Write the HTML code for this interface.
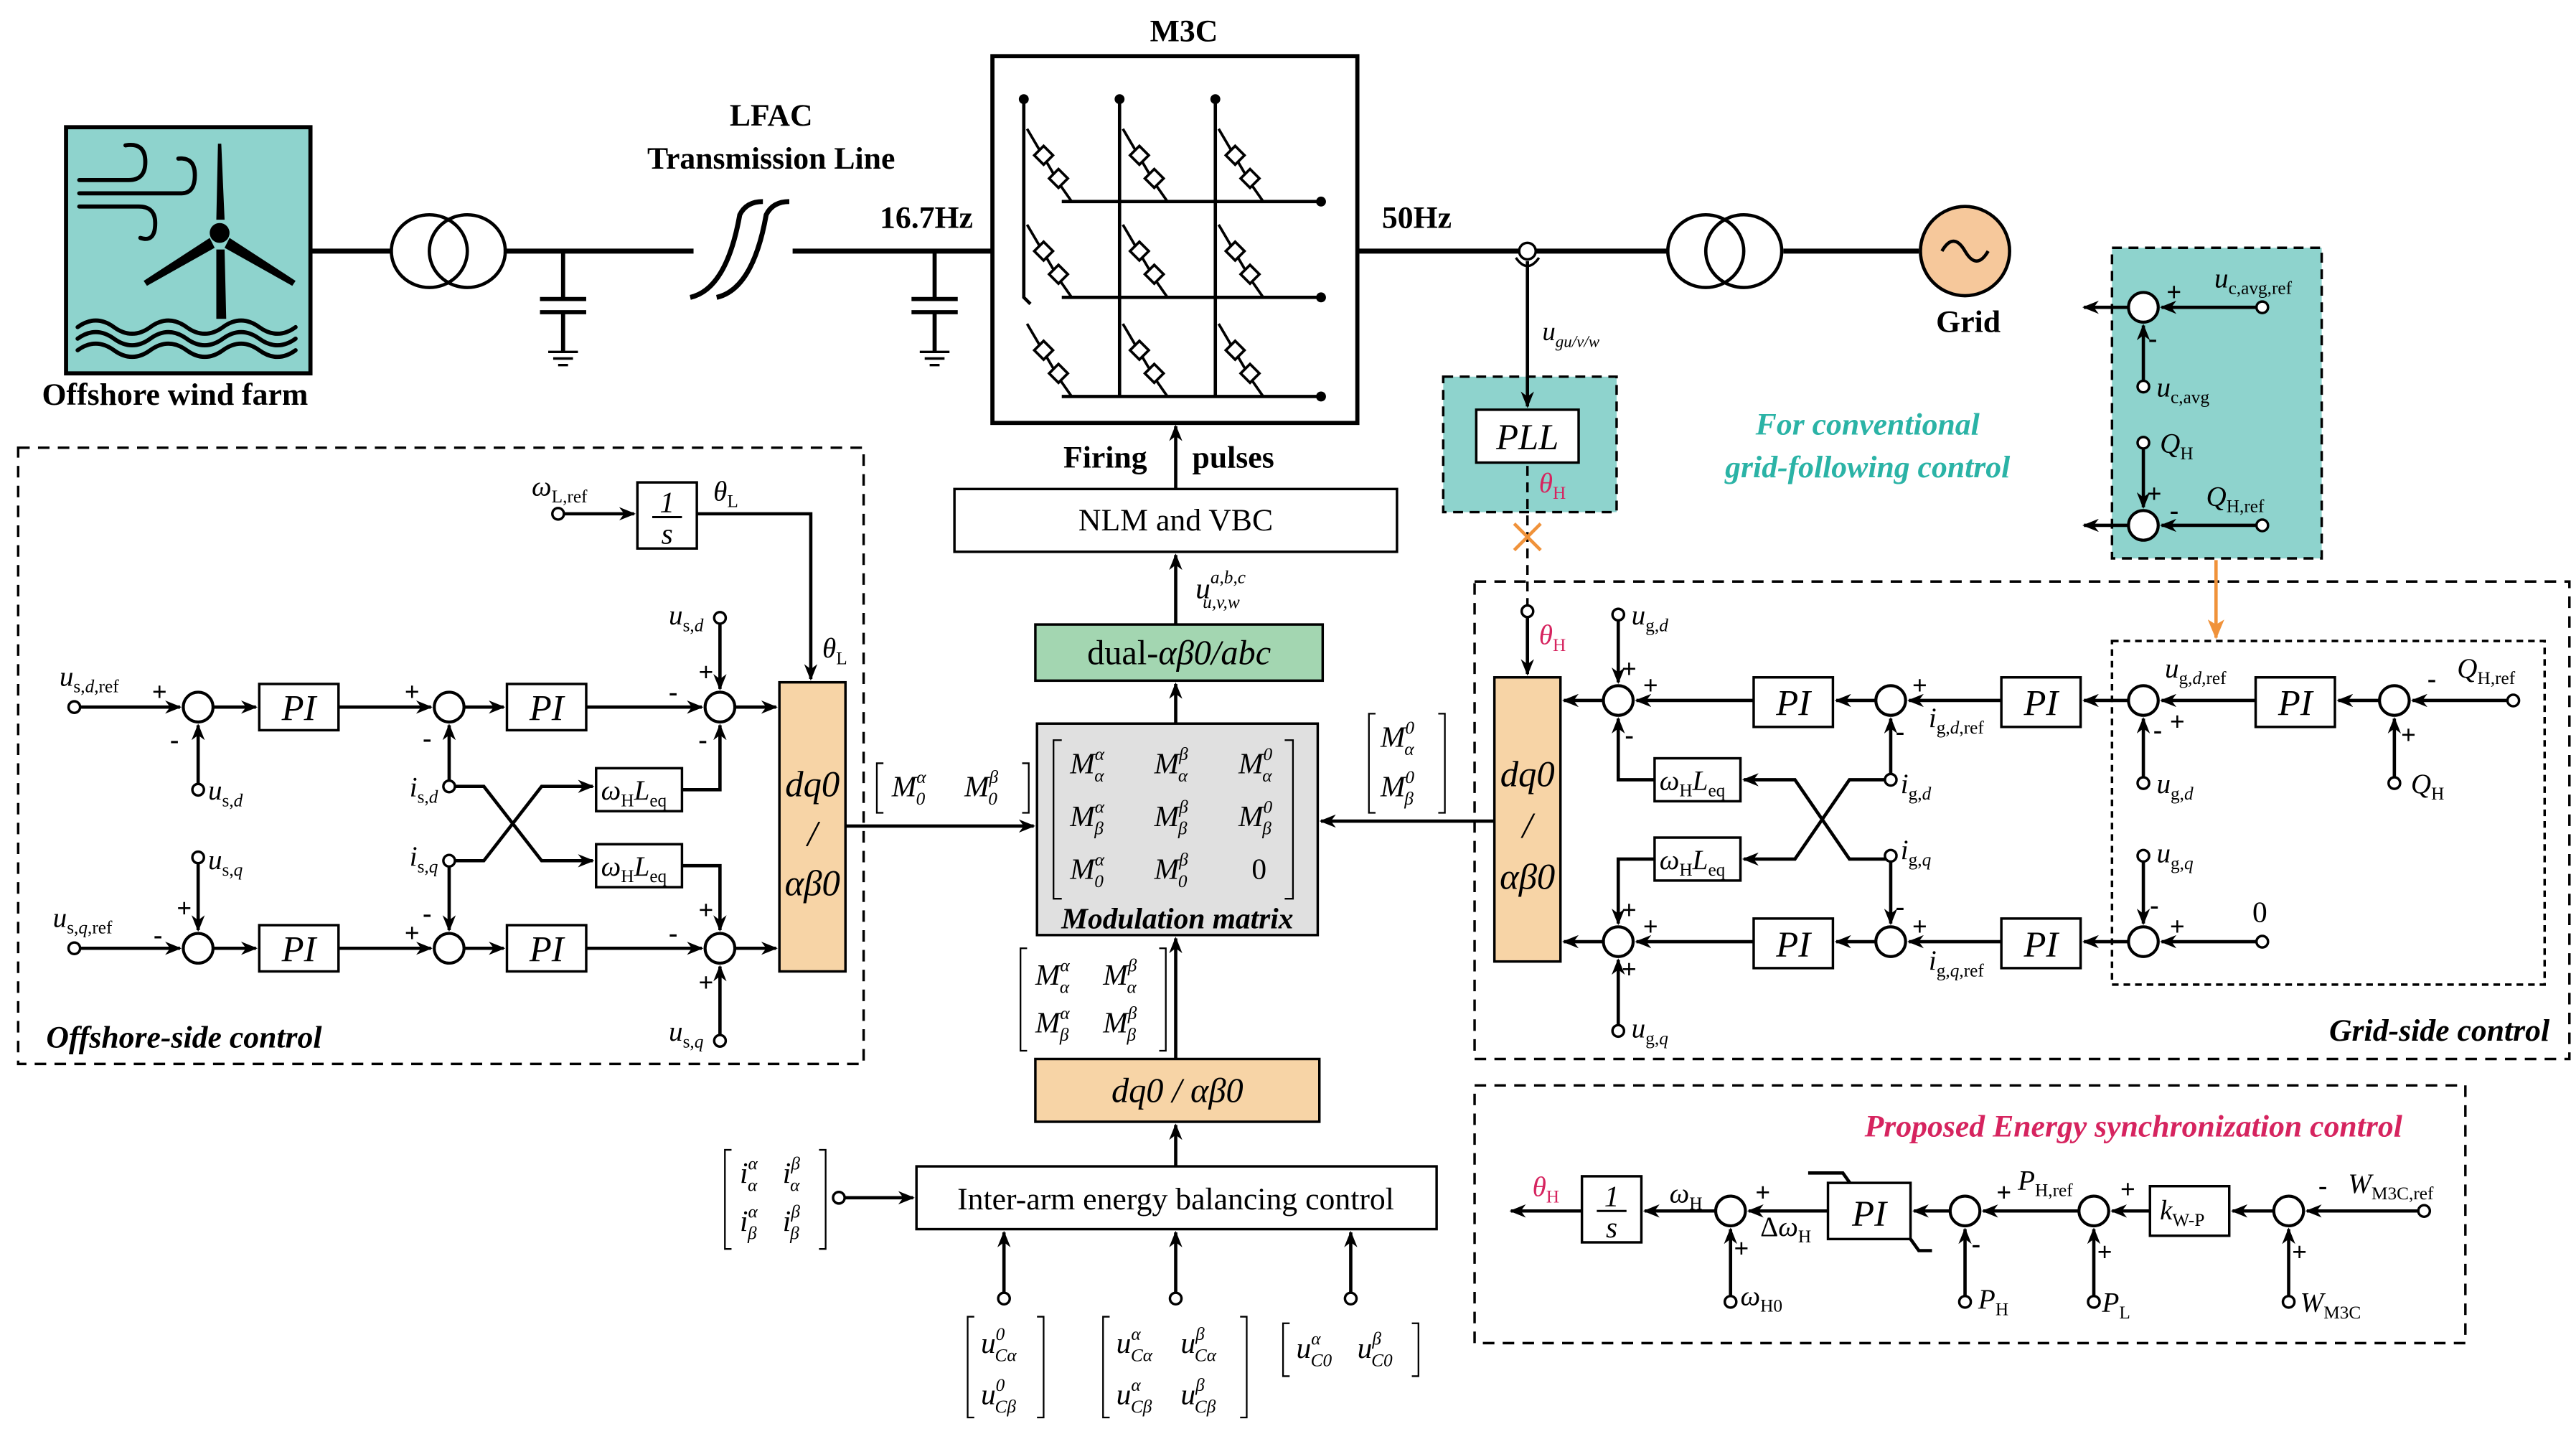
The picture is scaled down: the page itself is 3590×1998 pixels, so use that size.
<!DOCTYPE html>
<html><head><meta charset="utf-8"><style>
html,body{margin:0;padding:0;background:#fff;}
svg{display:block;}
text{font-family:"Liberation Serif",serif;fill:#000;}
.i{font-style:italic;}
.b{font-weight:bold;}
.s{font-size:17px;}
.pi{font-size:22px;font-style:italic;}
</style></head><body>
<svg width="3590" height="1998" viewBox="0 0 1560 868" preserveAspectRatio="none" xmlns="http://www.w3.org/2000/svg">
<defs>
<marker id="a" markerWidth="10" markerHeight="8" refX="9" refY="4" orient="auto" markerUnits="userSpaceOnUse"><path d="M0,0 L10,4 L0,8 L3,4Z" fill="#000"/></marker>
<marker id="o" markerWidth="12" markerHeight="10" refX="11" refY="5" orient="auto" markerUnits="userSpaceOnUse"><path d="M0,0 L12,5 L0,10 L3,5Z" fill="#f0923a"/></marker>
</defs>
<rect width="1560" height="868" fill="#fff"/>

<!-- ===== power circuit ===== -->
<rect x="40" y="77" width="148" height="149" fill="#8ed3cd" stroke="#000" stroke-width="2.5"/>
<g stroke="#000" fill="none" stroke-width="2.5" stroke-linecap="round">
<path d="M48,109 H78 Q88,109 88,98 Q88,86 76,88"/>
<path d="M48,117 H110 Q118,117 118,106 Q118,95 108,96"/>
<path d="M48,125 H84 Q94,125 94,135 Q94,147 85,144"/>
<path d="M47,198 q11,-8 22,0 t22,0 t22,0 t22,0 t22,0 t22,0"/>
<path d="M47,205 q11,-8 22,0 t22,0 t22,0 t22,0 t22,0 t22,0"/>
<path d="M47,212 q11,-8 22,0 t22,0 t22,0 t22,0 t22,0 t22,0"/>
</g>
<path d="M131,133 L132,87 L134,87 L136,133Z M131,151 L136,151 L137,193 L131,193Z" fill="#000"/>
<path d="M127,144 L87,170 L89,173 L130,150Z M139,144 L179,170 L177,173 L136,150Z" fill="#000"/>
<circle cx="133" cy="141" r="6" fill="#000"/>
<text x="106" y="245" class="b" font-size="19" text-anchor="middle">Offshore wind farm</text>

<g stroke="#000" stroke-width="3" fill="none">
<line x1="188" y1="152" x2="237" y2="152"/><line x1="305" y1="152" x2="600" y2="152"/>
<line x1="822" y1="152" x2="1010" y2="152"/><line x1="1080" y1="152" x2="1162" y2="152"/>
</g>
<g stroke="#000" stroke-width="2" fill="none">
<ellipse cx="260" cy="152" rx="23" ry="22"/><ellipse cx="283" cy="152" rx="23" ry="22"/>
<ellipse cx="1033" cy="152" rx="23" ry="22"/><ellipse cx="1056" cy="152" rx="23" ry="22"/>
</g>
<rect x="420" y="140" width="60" height="24" fill="#fff"/>
<g stroke="#000" stroke-width="3" fill="none">
<path d="M418,180 Q440,175 448,130 Q452,122 462,122"/>
<path d="M434,180 Q456,175 464,130 Q468,122 478,122"/>
</g>
<g stroke="#000" stroke-width="2.5" fill="none">
<path d="M341,152 V181 M327,181 H355 M327,189 H355 M341,189 V213"/>
<path d="M566,152 V181 M552,181 H580 M552,189 H580 M566,189 V213"/>
</g>
<g stroke="#000" stroke-width="1.5"><path d="M332,213 H350 M335,217 H347 M338,221 H344"/><path d="M557,213 H575 M560,217 H572 M563,221 H569"/></g>
<text x="467" y="76" class="b" font-size="19" text-anchor="middle">LFAC</text>
<text x="467" y="102" class="b" font-size="19" text-anchor="middle">Transmission Line</text>
<text x="561" y="138" class="b" font-size="19" text-anchor="middle">16.7Hz</text>
<text x="858" y="138" class="b" font-size="19" text-anchor="middle">50Hz</text>
<text x="717" y="25" class="b" font-size="19" text-anchor="middle">M3C</text>

<rect x="601" y="34" width="221" height="222" fill="#fff" stroke="#000" stroke-width="2.5"/>
<g stroke="#000" stroke-width="2" fill="none">
<path d="M620,60 V180 L624,184"/><line x1="678" y1="60" x2="678" y2="240"/><line x1="736" y1="60" x2="736" y2="240"/>
<line x1="643" y1="122" x2="800" y2="122"/><line x1="643" y1="180" x2="800" y2="180"/><line x1="643" y1="240" x2="800" y2="240"/>
</g>
<g fill="#000"><circle cx="620" cy="60" r="3"/><circle cx="678" cy="60" r="3"/><circle cx="736" cy="60" r="3"/>
<circle cx="800" cy="122" r="3"/><circle cx="800" cy="180" r="3"/><circle cx="800" cy="240" r="3"/></g>
<g stroke="#000" stroke-width="1.6" fill="#fff">
<g id="br"><path d="M622,78 L642,112 L649,122" fill="none"/><rect x="628" y="90" width="8" height="8" transform="rotate(45 632 94)"/><rect x="637" y="104" width="8" height="8" transform="rotate(45 641 108)"/></g>
<use href="#br" x="58"/><use href="#br" x="116"/>
<use href="#br" y="58"/><use href="#br" x="58" y="58"/><use href="#br" x="116" y="58"/>
<use href="#br" y="118"/><use href="#br" x="58" y="118"/><use href="#br" x="116" y="118"/>
</g>

<!-- sensor and grid -->
<circle cx="925" cy="152" r="5" fill="#fff" stroke="#000" stroke-width="1.5"/>
<path d="M918,156 Q925,166 932,156" fill="none" stroke="#000" stroke-width="1.5"/>
<circle cx="1190" cy="152" r="27" fill="#f6c89b" stroke="#000" stroke-width="2"/>
<path d="M1176,152 Q1183,140 1190,152 T1204,152" fill="none" stroke="#000" stroke-width="2"/>
<text x="1192" y="201" class="b" font-size="19" text-anchor="middle">Grid</text>

<!-- M3C control chain -->
<line x1="712" y1="296" x2="712" y2="258" stroke="#000" stroke-width="2" marker-end="url(#a)"/>
<text x="644" y="283" class="b" font-size="19">Firing</text><text x="722" y="283" class="b" font-size="19">pulses</text>
<rect x="578" y="296" width="268" height="38" fill="#fff" stroke="#000" stroke-width="1.5"/>
<text x="712" y="321" font-size="19" text-anchor="middle">NLM and VBC</text>
<line x1="712" y1="378" x2="712" y2="336" stroke="#000" stroke-width="2" marker-end="url(#a)"/>
<text x="724" y="362" class="i" font-size="18">u<tspan font-size="11" dy="-9">a,b,c</tspan><tspan font-size="11" dx="-26" dy="15">u,v,w</tspan></text>
<rect x="627" y="378" width="174" height="34" fill="#a3d6b1" stroke="#000" stroke-width="1.5"/>
<text x="714" y="402" font-size="21" text-anchor="middle">dual-<tspan class="i">αβ0/abc</tspan></text>
<line x1="712" y1="438" x2="712" y2="414" stroke="#000" stroke-width="2" marker-end="url(#a)"/>
<rect x="628" y="438" width="170" height="128" fill="#e0e0e0" stroke="#000" stroke-width="1.5"/>
<path d="M643,448 h-5 v96 h5 M778,448 h5 v96 h-5" fill="none" stroke="#000" stroke-width="1"/>
<g class="i" font-size="18">
<text x="648" y="468">M<tspan font-size="11" dy="-8">α</tspan><tspan font-size="11" dx="-6" dy="13">α</tspan></text>
<text x="699" y="468">M<tspan font-size="11" dy="-8">β</tspan><tspan font-size="11" dx="-6" dy="13">α</tspan></text>
<text x="750" y="468">M<tspan font-size="11" dy="-8">0</tspan><tspan font-size="11" dx="-6" dy="13">α</tspan></text>
<text x="648" y="500">M<tspan font-size="11" dy="-8">α</tspan><tspan font-size="11" dx="-6" dy="13">β</tspan></text>
<text x="699" y="500">M<tspan font-size="11" dy="-8">β</tspan><tspan font-size="11" dx="-6" dy="13">β</tspan></text>
<text x="750" y="500">M<tspan font-size="11" dy="-8">0</tspan><tspan font-size="11" dx="-6" dy="13">β</tspan></text>
<text x="648" y="532">M<tspan font-size="11" dy="-8">α</tspan><tspan font-size="11" dx="-6" dy="13">0</tspan></text>
<text x="699" y="532">M<tspan font-size="11" dy="-8">β</tspan><tspan font-size="11" dx="-6" dy="13">0</tspan></text>
<text x="758" y="532" font-style="normal">0</text>
</g>
<text x="713" y="562" class="b i" font-size="18" text-anchor="middle">Modulation matrix</text>

<!-- M inputs -->
<line x1="512" y1="500" x2="626" y2="500" stroke="#000" stroke-width="2" marker-end="url(#a)"/>
<path d="M535,462 h-4 v30 h4 M619,462 h4 v30 h-4" fill="none" stroke="#000" stroke-width="1"/>
<g class="i" font-size="18"><text x="540" y="482">M<tspan font-size="11" dy="-8">α</tspan><tspan font-size="11" dx="-6" dy="13">0</tspan></text>
<text x="584" y="482">M<tspan font-size="11" dy="-8">β</tspan><tspan font-size="11" dx="-6" dy="13">0</tspan></text></g>
<line x1="905" y1="497" x2="800" y2="497" stroke="#000" stroke-width="2" marker-end="url(#a)"/>
<path d="M833,432 h-4 v60 h4 M871,432 h4 v60 h-4" fill="none" stroke="#000" stroke-width="1"/>
<g class="i" font-size="18"><text x="836" y="452">M<tspan font-size="11" dy="-8">0</tspan><tspan font-size="11" dx="-6" dy="13">α</tspan></text>
<text x="836" y="482">M<tspan font-size="11" dy="-8">0</tspan><tspan font-size="11" dx="-6" dy="13">β</tspan></text></g>

<path d="M622,574 h-4 v62 h4 M702,574 h4 v62 h-4" fill="none" stroke="#000" stroke-width="1"/>
<g class="i" font-size="18"><text x="627" y="596">M<tspan font-size="11" dy="-8">α</tspan><tspan font-size="11" dx="-6" dy="13">α</tspan></text>
<text x="668" y="596">M<tspan font-size="11" dy="-8">β</tspan><tspan font-size="11" dx="-6" dy="13">α</tspan></text>
<text x="627" y="625">M<tspan font-size="11" dy="-8">α</tspan><tspan font-size="11" dx="-6" dy="13">β</tspan></text>
<text x="668" y="625">M<tspan font-size="11" dy="-8">β</tspan><tspan font-size="11" dx="-6" dy="13">β</tspan></text></g>
<line x1="712" y1="641" x2="712" y2="568" stroke="#000" stroke-width="2" marker-end="url(#a)"/>
<rect x="627" y="641" width="172" height="38" fill="#f7d4a6" stroke="#000" stroke-width="1.5"/>
<text x="713" y="667" class="i" font-size="21" text-anchor="middle">dq0 / αβ0</text>
<line x1="712" y1="706" x2="712" y2="681" stroke="#000" stroke-width="2" marker-end="url(#a)"/>
<rect x="555" y="706" width="315" height="38" fill="#fff" stroke="#000" stroke-width="1.5"/>
<text x="712" y="732" font-size="19" text-anchor="middle">Inter-arm energy balancing control</text>
<circle cx="508" cy="725" r="3.5" fill="#fff" stroke="#000" stroke-width="1.5"/>
<line x1="512" y1="725" x2="553" y2="725" stroke="#000" stroke-width="2" marker-end="url(#a)"/>
<path d="M443,696 h-4 v60 h4 M496,696 h4 v60 h-4" fill="none" stroke="#000" stroke-width="1"/>
<g class="i" font-size="18"><text x="448" y="716">i<tspan font-size="11" dy="-8">α</tspan><tspan font-size="11" dx="-6" dy="13">α</tspan></text>
<text x="474" y="716">i<tspan font-size="11" dy="-8">β</tspan><tspan font-size="11" dx="-6" dy="13">α</tspan></text>
<text x="448" y="745">i<tspan font-size="11" dy="-8">α</tspan><tspan font-size="11" dx="-6" dy="13">β</tspan></text>
<text x="474" y="745">i<tspan font-size="11" dy="-8">β</tspan><tspan font-size="11" dx="-6" dy="13">β</tspan></text></g>
<g stroke="#000" stroke-width="2">
<line x1="608" y1="782" x2="608" y2="746" marker-end="url(#a)"/><line x1="712" y1="782" x2="712" y2="746" marker-end="url(#a)"/><line x1="818" y1="782" x2="818" y2="746" marker-end="url(#a)"/></g>
<g fill="#fff" stroke="#000" stroke-width="1.5"><circle cx="608" cy="786" r="3.5"/><circle cx="712" cy="786" r="3.5"/><circle cx="818" cy="786" r="3.5"/></g>
<path d="M590,797 h-4 v61 h4 M628,797 h4 v61 h-4 M672,797 h-4 v61 h4 M751,797 h4 v61 h-4 M781,801 h-4 v32 h4 M855,801 h4 v32 h-4" fill="none" stroke="#000" stroke-width="1"/>
<g class="i" font-size="18">
<text x="594" y="819">u<tspan font-size="11" dy="-8">0</tspan><tspan font-size="11" dx="-6" dy="13">Cα</tspan></text>
<text x="594" y="850">u<tspan font-size="11" dy="-8">0</tspan><tspan font-size="11" dx="-6" dy="13">Cβ</tspan></text>
<text x="676" y="819">u<tspan font-size="11" dy="-8">α</tspan><tspan font-size="11" dx="-6" dy="13">Cα</tspan></text>
<text x="715" y="819">u<tspan font-size="11" dy="-8">β</tspan><tspan font-size="11" dx="-6" dy="13">Cα</tspan></text>
<text x="676" y="850">u<tspan font-size="11" dy="-8">α</tspan><tspan font-size="11" dx="-6" dy="13">Cβ</tspan></text>
<text x="715" y="850">u<tspan font-size="11" dy="-8">β</tspan><tspan font-size="11" dx="-6" dy="13">Cβ</tspan></text>
<text x="785" y="822">u<tspan font-size="11" dy="-8">α</tspan><tspan font-size="11" dx="-6" dy="13">C0</tspan></text>
<text x="822" y="822">u<tspan font-size="11" dy="-8">β</tspan><tspan font-size="11" dx="-6" dy="13">C0</tspan></text>
</g>

<!-- ===== Offshore-side control ===== -->
<rect x="11" y="271" width="512" height="373" fill="none" stroke="#000" stroke-width="1.5" stroke-dasharray="7,5"/>
<text x="28" y="634" class="b i" font-size="19">Offshore-side control</text>
<g stroke="#000" stroke-width="2" fill="none">
<line x1="342" y1="311" x2="384" y2="311" marker-end="url(#a)"/>
<path d="M422,311 H491 V411" marker-end="url(#a)"/>
<line x1="49" y1="428" x2="109" y2="428" marker-end="url(#a)"/>
<line x1="120" y1="474" x2="120" y2="439" marker-end="url(#a)"/>
<line x1="129" y1="428" x2="155" y2="428" marker-end="url(#a)"/>
<line x1="205" y1="428" x2="261" y2="428" marker-end="url(#a)"/>
<line x1="272" y1="472" x2="272" y2="439" marker-end="url(#a)"/>
<line x1="281" y1="428" x2="305" y2="428" marker-end="url(#a)"/>
<line x1="355" y1="428" x2="425" y2="428" marker-end="url(#a)"/>
<line x1="436" y1="378" x2="436" y2="417" marker-end="url(#a)"/>
<path d="M413,478 H436 V439" marker-end="url(#a)"/>
<line x1="445" y1="428" x2="470" y2="428" marker-end="url(#a)"/>
<path d="M275,476 H293 L328,521 H359" marker-end="url(#a)"/>
<path d="M275,521 H293 L328,476 H359" marker-end="url(#a)"/>
<line x1="49" y1="574" x2="109" y2="574" marker-end="url(#a)"/>
<line x1="120" y1="523" x2="120" y2="563" marker-end="url(#a)"/>
<line x1="129" y1="574" x2="155" y2="574" marker-end="url(#a)"/>
<line x1="205" y1="574" x2="261" y2="574" marker-end="url(#a)"/>
<line x1="272" y1="525" x2="272" y2="563" marker-end="url(#a)"/>
<line x1="281" y1="574" x2="305" y2="574" marker-end="url(#a)"/>
<line x1="355" y1="574" x2="425" y2="574" marker-end="url(#a)"/>
<path d="M413,524 H436 V563" marker-end="url(#a)"/>
<line x1="436" y1="626" x2="436" y2="585" marker-end="url(#a)"/>
<line x1="445" y1="574" x2="470" y2="574" marker-end="url(#a)"/>
</g>
<g fill="#fff" stroke="#000" stroke-width="1.8">
<circle cx="120" cy="428" r="9"/><circle cx="272" cy="428" r="9"/><circle cx="436" cy="428" r="9"/>
<circle cx="120" cy="574" r="9"/><circle cx="272" cy="574" r="9"/><circle cx="436" cy="574" r="9"/>
</g>
<g fill="#fff" stroke="#000" stroke-width="1.5">
<circle cx="338" cy="311" r="3.5"/><circle cx="45" cy="428" r="3.5"/><circle cx="120" cy="478" r="3.5"/><circle cx="272" cy="476" r="3.5"/>
<circle cx="436" cy="374" r="3.5"/><circle cx="45" cy="574" r="3.5"/><circle cx="120" cy="519" r="3.5"/><circle cx="272" cy="521" r="3.5"/><circle cx="436" cy="630" r="3.5"/>
<rect x="386" y="292" width="36" height="40"/>
<rect x="157" y="414" width="48" height="28"/><rect x="307" y="414" width="48" height="28"/>
<rect x="157" y="560" width="48" height="28"/><rect x="307" y="560" width="48" height="28"/>
<rect x="361" y="465" width="52" height="26"/><rect x="361" y="511" width="52" height="26"/>
</g>
<rect x="472" y="413" width="40" height="175" fill="#f7d4a6" stroke="#000" stroke-width="1.5"/>
<g class="i" font-size="22" text-anchor="middle"><text x="492" y="482">dq0</text><text x="492" y="512">/</text><text x="492" y="542">αβ0</text></g>
<text x="404" y="310" class="i" font-size="18" text-anchor="middle">1</text><line x1="395" y1="313" x2="413" y2="313" stroke="#000" stroke-width="1.3"/><text x="404" y="329" class="i" font-size="18" text-anchor="middle">s</text>
<g class="pi" text-anchor="middle"><text x="181" y="436">PI</text><text x="331" y="436">PI</text><text x="181" y="582">PI</text><text x="331" y="582">PI</text></g>
<g class="i" font-size="17">
<text x="364" y="484">ω<tspan font-size="11" dy="4" font-style="normal">H</tspan><tspan dy="-4">L</tspan><tspan font-size="11" dy="4" font-style="normal">eq</tspan></text>
<text x="364" y="530">ω<tspan font-size="11" dy="4" font-style="normal">H</tspan><tspan dy="-4">L</tspan><tspan font-size="11" dy="4" font-style="normal">eq</tspan></text>
<text x="322" y="300">ω<tspan font-size="11" dy="4" font-style="normal">L,ref</tspan></text>
<text x="432" y="303">θ<tspan font-size="11" dy="4" font-style="normal">L</tspan></text>
<text x="498" y="398">θ<tspan font-size="11" dy="4" font-style="normal">L</tspan></text>
<text x="36" y="415">u<tspan font-size="11" dy="4" font-style="normal">s,<tspan font-style="italic">d</tspan>,ref</tspan></text>
<text x="126" y="484">u<tspan font-size="11" dy="4" font-style="normal">s,<tspan font-style="italic">d</tspan></tspan></text>
<text x="248" y="482">i<tspan font-size="11" dy="4" font-style="normal">s,<tspan font-style="italic">d</tspan></tspan></text>
<text x="405" y="378">u<tspan font-size="11" dy="4" font-style="normal">s,<tspan font-style="italic">d</tspan></tspan></text>
<text x="126" y="526">u<tspan font-size="11" dy="4" font-style="normal">s,<tspan font-style="italic">q</tspan></tspan></text>
<text x="248" y="524">i<tspan font-size="11" dy="4" font-style="normal">s,<tspan font-style="italic">q</tspan></tspan></text>
<text x="32" y="561">u<tspan font-size="11" dy="4" font-style="normal">s,<tspan font-style="italic">q</tspan>,ref</tspan></text>
<text x="405" y="630">u<tspan font-size="11" dy="4" font-style="normal">s,<tspan font-style="italic">q</tspan></tspan></text>
</g>
<g class="b" font-size="16">
<text x="92" y="424">+</text><text x="103" y="453">-</text><text x="245" y="424">+</text><text x="256" y="452">-</text><text x="405" y="424">-</text><text x="423" y="412">+</text><text x="423" y="453">-</text>
<text x="93" y="571">-</text><text x="107" y="555">+</text><text x="245" y="570">+</text><text x="256" y="558">-</text><text x="405" y="570">-</text><text x="423" y="556">+</text><text x="423" y="600">+</text>
</g>

<!-- ===== PLL ===== -->
<rect x="874" y="228" width="105" height="82" fill="#8ed3cd" stroke="#000" stroke-width="1.5" stroke-dasharray="6,4"/>
<line x1="925" y1="158" x2="925" y2="246" stroke="#000" stroke-width="2" marker-end="url(#a)"/>
<rect x="894" y="248" width="62" height="32" fill="#fff" stroke="#000" stroke-width="1.5"/>
<text x="925" y="272" class="i" font-size="22" text-anchor="middle">PLL</text>
<text x="934" y="206" class="i" font-size="16">u<tspan font-size="10" dy="4">gu/v/w</tspan></text>
<text x="932" y="298" class="i" font-size="17" style="fill:#d6245f">θ<tspan font-size="11" dy="4" font-style="normal">H</tspan></text>
<line x1="925" y1="282" x2="925" y2="368" stroke="#000" stroke-width="1.5" stroke-dasharray="6,4"/>
<path d="M917,317 L933,333 M933,317 L917,333" stroke="#f0923a" stroke-width="2"/>

<!-- ===== Grid-side control ===== -->
<rect x="893" y="352" width="663" height="289" fill="none" stroke="#000" stroke-width="1.5" stroke-dasharray="7,5"/>
<rect x="1279" y="388" width="262" height="208" fill="none" stroke="#000" stroke-width="1.5" stroke-dasharray="4,3"/>
<text x="1544" y="630" class="b i" font-size="19" text-anchor="end">Grid-side control</text>
<rect x="905" y="410" width="40" height="172" fill="#f7d4a6" stroke="#000" stroke-width="1.5"/>
<g class="i" font-size="22" text-anchor="middle"><text x="925" y="476">dq0</text><text x="925" y="507">/</text><text x="925" y="538">αβ0</text></g>
<g stroke="#000" stroke-width="2" fill="none">
<line x1="925" y1="374" x2="925" y2="408" marker-end="url(#a)"/>
<line x1="971" y1="424" x2="947" y2="424" marker-end="url(#a)"/>
<line x1="980" y1="376" x2="980" y2="413" marker-end="url(#a)"/>
<path d="M1002,472 H980 V435" marker-end="url(#a)"/>
<line x1="1062" y1="424" x2="991" y2="424" marker-end="url(#a)"/>
<line x1="1136" y1="424" x2="1112" y2="424" marker-end="url(#a)"/>
<line x1="1145" y1="468" x2="1145" y2="435" marker-end="url(#a)"/>
<line x1="1212" y1="424" x2="1156" y2="424" marker-end="url(#a)"/>
<line x1="1289" y1="424" x2="1262" y2="424" marker-end="url(#a)"/>
<line x1="1298" y1="470" x2="1298" y2="435" marker-end="url(#a)"/>
<line x1="1366" y1="424" x2="1309" y2="424" marker-end="url(#a)"/>
<line x1="1441" y1="424" x2="1416" y2="424" marker-end="url(#a)"/>
<line x1="1519" y1="424" x2="1461" y2="424" marker-end="url(#a)"/>
<line x1="1450" y1="470" x2="1450" y2="435" marker-end="url(#a)"/>
<path d="M1142,472 H1120 L1087,520 H1056" marker-end="url(#a)"/>
<path d="M1142,520 H1120 L1087,472 H1056" marker-end="url(#a)"/>
<line x1="971" y1="570" x2="947" y2="570" marker-end="url(#a)"/>
<line x1="980" y1="620" x2="980" y2="581" marker-end="url(#a)"/>
<path d="M1002,520 H980 V559" marker-end="url(#a)"/>
<line x1="1062" y1="570" x2="991" y2="570" marker-end="url(#a)"/>
<line x1="1136" y1="570" x2="1112" y2="570" marker-end="url(#a)"/>
<line x1="1145" y1="522" x2="1145" y2="559" marker-end="url(#a)"/>
<line x1="1212" y1="570" x2="1156" y2="570" marker-end="url(#a)"/>
<line x1="1289" y1="570" x2="1262" y2="570" marker-end="url(#a)"/>
<line x1="1298" y1="522" x2="1298" y2="559" marker-end="url(#a)"/>
<line x1="1367" y1="570" x2="1309" y2="570" marker-end="url(#a)"/>
</g>
<g fill="#fff" stroke="#000" stroke-width="1.8">
<circle cx="980" cy="424" r="9"/><circle cx="1145" cy="424" r="9"/><circle cx="1298" cy="424" r="9"/><circle cx="1450" cy="424" r="9"/>
<circle cx="980" cy="570" r="9"/><circle cx="1145" cy="570" r="9"/><circle cx="1298" cy="570" r="9"/>
</g>
<g fill="#fff" stroke="#000" stroke-width="1.5">
<circle cx="925" cy="370" r="3.5"/><circle cx="980" cy="372" r="3.5"/><circle cx="1145" cy="472" r="3.5"/><circle cx="1298" cy="474" r="3.5"/><circle cx="1450" cy="474" r="3.5"/><circle cx="1522" cy="424" r="3.5"/>
<circle cx="980" cy="624" r="3.5"/><circle cx="1145" cy="518" r="3.5"/><circle cx="1298" cy="518" r="3.5"/><circle cx="1370" cy="570" r="3.5"/>
<rect x="1062" y="410" width="48" height="30"/><rect x="1212" y="410" width="48" height="30"/><rect x="1366" y="410" width="48" height="30"/>
<rect x="1062" y="556" width="48" height="30"/><rect x="1212" y="556" width="48" height="30"/>
<rect x="1002" y="459" width="52" height="26"/><rect x="1002" y="507" width="52" height="26"/>
</g>
<g class="pi" text-anchor="middle"><text x="1086" y="433">PI</text><text x="1236" y="433">PI</text><text x="1390" y="433">PI</text><text x="1086" y="579">PI</text><text x="1236" y="579">PI</text></g>
<g class="i" font-size="17">
<text x="1005" y="478">ω<tspan font-size="11" dy="4" font-style="normal">H</tspan><tspan dy="-4">L</tspan><tspan font-size="11" dy="4" font-style="normal">eq</tspan></text>
<text x="1005" y="526">ω<tspan font-size="11" dy="4" font-style="normal">H</tspan><tspan dy="-4">L</tspan><tspan font-size="11" dy="4" font-style="normal">eq</tspan></text>
<text x="932" y="390" style="fill:#d6245f">θ<tspan font-size="11" dy="4" font-style="normal">H</tspan></text>
<text x="988" y="378">u<tspan font-size="11" dy="4" font-style="normal">g,<tspan font-style="italic">d</tspan></tspan></text>
<text x="1168" y="440">i<tspan font-size="11" dy="4" font-style="normal">g,<tspan font-style="italic">d</tspan>,ref</tspan></text>
<text x="1151" y="480">i<tspan font-size="11" dy="4" font-style="normal">g,<tspan font-style="italic">d</tspan></tspan></text>
<text x="1151" y="520">i<tspan font-size="11" dy="4" font-style="normal">g,<tspan font-style="italic">q</tspan></tspan></text>
<text x="1168" y="587">i<tspan font-size="11" dy="4" font-style="normal">g,<tspan font-style="italic">q</tspan>,ref</tspan></text>
<text x="988" y="628">u<tspan font-size="11" dy="4" font-style="normal">g,<tspan font-style="italic">q</tspan></tspan></text>
<text x="1311" y="410">u<tspan font-size="11" dy="4" font-style="normal">g,<tspan font-style="italic">d</tspan>,ref</tspan></text>
<text x="1306" y="480">u<tspan font-size="11" dy="4" font-style="normal">g,<tspan font-style="italic">d</tspan></tspan></text>
<text x="1306" y="522">u<tspan font-size="11" dy="4" font-style="normal">g,<tspan font-style="italic">q</tspan></tspan></text>
<text x="1488" y="410">Q<tspan font-size="11" dy="4" font-style="normal">H,ref</tspan></text>
<text x="1460" y="480">Q<tspan font-size="11" dy="4" font-style="normal">H</tspan></text>
</g>
<text x="1364" y="558" font-size="18">0</text>
<g class="b" font-size="16">
<text x="982" y="410">+</text><text x="995" y="420">+</text><text x="984" y="450">-</text><text x="1158" y="420">+</text><text x="1148" y="448">-</text>
<text x="1314" y="442">+</text><text x="1304" y="447">-</text><text x="1470" y="416">-</text><text x="1454" y="450">+</text>
<text x="982" y="556">+</text><text x="995" y="566">+</text><text x="982" y="592">+</text><text x="1158" y="566">+</text><text x="1148" y="554">-</text>
<text x="1314" y="566">+</text><text x="1302" y="553">-</text>
</g>

<!-- ===== teal conventional box ===== -->
<rect x="1279" y="150" width="127" height="188" fill="#8ed3cd" stroke="#000" stroke-width="1.5" stroke-dasharray="6,4"/>
<g stroke="#000" stroke-width="2" fill="none">
<line x1="1289" y1="186" x2="1262" y2="186" marker-end="url(#a)"/>
<line x1="1367" y1="186" x2="1309" y2="186" marker-end="url(#a)"/>
<line x1="1298" y1="230" x2="1298" y2="197" marker-end="url(#a)"/>
<line x1="1298" y1="272" x2="1298" y2="307" marker-end="url(#a)"/>
<line x1="1367" y1="318" x2="1309" y2="318" marker-end="url(#a)"/>
<line x1="1289" y1="318" x2="1262" y2="318" marker-end="url(#a)"/>
</g>
<g fill="#fff" stroke="#000" stroke-width="1.8"><circle cx="1298" cy="186" r="9"/><circle cx="1298" cy="318" r="9"/></g>
<g fill="#fff" stroke="#000" stroke-width="1.5"><circle cx="1370" cy="186" r="3.5"/><circle cx="1298" cy="234" r="3.5"/><circle cx="1298" cy="268" r="3.5"/><circle cx="1370" cy="318" r="3.5"/></g>
<g class="i" font-size="17">
<text x="1341" y="174">u<tspan font-size="11" dy="4" font-style="normal">c,avg,ref</tspan></text>
<text x="1306" y="240">u<tspan font-size="11" dy="4" font-style="normal">c,avg</tspan></text>
<text x="1308" y="274">Q<tspan font-size="11" dy="4" font-style="normal">H</tspan></text>
<text x="1336" y="306">Q<tspan font-size="11" dy="4" font-style="normal">H,ref</tspan></text>
</g>
<g class="b" font-size="16"><text x="1312" y="182">+</text><text x="1301" y="210">-</text><text x="1300" y="304">+</text><text x="1314" y="314">-</text></g>
<line x1="1342" y1="339" x2="1342" y2="386" stroke="#f0923a" stroke-width="2" marker-end="url(#o)"/>
<text x="1131" y="263" class="b i" font-size="19" text-anchor="middle" style="fill:#2bb3a6">For conventional</text>
<text x="1131" y="289" class="b i" font-size="19" text-anchor="middle" style="fill:#2bb3a6">grid-following control</text>

<!-- ===== Proposed ===== -->
<rect x="893" y="657" width="600" height="156" fill="none" stroke="#000" stroke-width="1.5" stroke-dasharray="7,5"/>
<text x="1292" y="688" class="b i" font-size="19" text-anchor="middle" style="fill:#d6245f">Proposed Energy synchronization control</text>
<g stroke="#000" stroke-width="2" fill="none">
<line x1="1465" y1="733" x2="1397" y2="733" marker-end="url(#a)"/>
<line x1="1386" y1="784" x2="1386" y2="744" marker-end="url(#a)"/>
<line x1="1377" y1="733" x2="1352" y2="733" marker-end="url(#a)"/>
<line x1="1302" y1="733" x2="1279" y2="733" marker-end="url(#a)"/>
<line x1="1268" y1="784" x2="1268" y2="744" marker-end="url(#a)"/>
<line x1="1259" y1="733" x2="1201" y2="733" marker-end="url(#a)"/>
<line x1="1190" y1="784" x2="1190" y2="744" marker-end="url(#a)"/>
<line x1="1181" y1="733" x2="1159" y2="733" marker-end="url(#a)"/>
<line x1="1107" y1="733" x2="1059" y2="733" marker-end="url(#a)"/>
<line x1="1048" y1="784" x2="1048" y2="744" marker-end="url(#a)"/>
<line x1="1039" y1="733" x2="996" y2="733" marker-end="url(#a)"/>
<line x1="958" y1="733" x2="915" y2="733" marker-end="url(#a)"/>
<path d="M1095,710 H1116 L1121,717 M1157,750 L1162,757 H1170"/>
</g>
<g fill="#fff" stroke="#000" stroke-width="1.8"><circle cx="1048" cy="733" r="9"/><circle cx="1190" cy="733" r="9"/><circle cx="1268" cy="733" r="9"/><circle cx="1386" cy="733" r="9"/></g>
<g fill="#fff" stroke="#000" stroke-width="1.5">
<circle cx="1468" cy="733" r="3.5"/><circle cx="1386" cy="788" r="3.5"/><circle cx="1268" cy="788" r="3.5"/><circle cx="1190" cy="788" r="3.5"/><circle cx="1048" cy="788" r="3.5"/>
<rect x="1302" y="718" width="48" height="30"/><rect x="1107" y="716" width="50" height="34"/><rect x="958" y="712" width="36" height="40"/>
</g>
<text x="1132" y="742" class="pi" text-anchor="middle">PI</text>
<text x="976" y="730" class="i" font-size="18" text-anchor="middle">1</text><line x1="967" y1="733" x2="985" y2="733" stroke="#000" stroke-width="1.3"/><text x="976" y="749" class="i" font-size="18" text-anchor="middle">s</text>
<g class="i" font-size="17">
<text x="1308" y="738">k<tspan font-size="11" dy="4" font-style="normal">W-P</tspan></text>
<text x="1422" y="722">W<tspan font-size="11" dy="4" font-style="normal">M3C,ref</tspan></text>
<text x="1393" y="794">W<tspan font-size="11" dy="4" font-style="normal">M3C</tspan></text>
<text x="1273" y="794">P<tspan font-size="11" dy="4" font-style="normal">L</tspan></text>
<text x="1198" y="792">P<tspan font-size="11" dy="4" font-style="normal">H</tspan></text>
<text x="1222" y="720">P<tspan font-size="11" dy="4" font-style="normal">H,ref</tspan></text>
<text x="1066" y="748"><tspan font-style="normal">Δ</tspan>ω<tspan font-size="11" dy="4" font-style="normal">H</tspan></text>
<text x="1011" y="728">ω<tspan font-size="11" dy="4" font-style="normal">H</tspan></text>
<text x="1054" y="790">ω<tspan font-size="11" dy="4" font-style="normal">H0</tspan></text>
<text x="928" y="724" style="fill:#d6245f">θ<tspan font-size="11" dy="4" font-style="normal">H</tspan></text>
</g>
<g class="b" font-size="16"><text x="1404" y="723">-</text><text x="1388" y="763">+</text><text x="1284" y="725">+</text><text x="1270" y="763">+</text><text x="1209" y="727">+</text><text x="1194" y="758">-</text><text x="1063" y="727">+</text><text x="1050" y="761">+</text></g>
</svg>
</body></html>
